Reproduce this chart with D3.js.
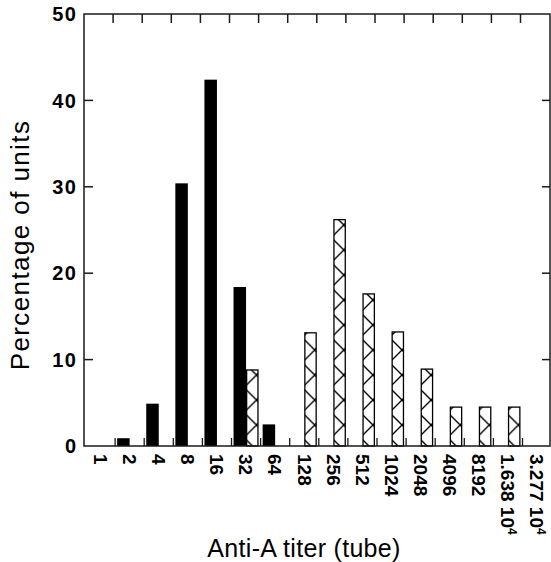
<!DOCTYPE html>
<html>
<head>
<meta charset="utf-8">
<script src="https://cdn.jsdelivr.net/npm/d3@7"></script>
<style>
  body { margin: 0; background: #fff; }
  text { font-family: "Liberation Sans", Arial, sans-serif; fill: #000; }
</style>
</head>
<body>
<div class="chart"></div>
<script>
const width = 551;
const height = 562;

// titer categories (tube), "^" marks the exponent
const titers = ["1", "2", "4", "8", "16", "32", "64", "128", "256", "512",
  "1024", "2048", "4096", "8192", "1.638 10^4", "3.277 10^4"];
const series = ["solid", "hatched"];
const solidValues = [0, 0.9, 4.9, 30.4, 42.4, 18.4, 2.5, 0, 0, 0, 0, 0, 0, 0, 0, 0];
const hatchedValues = [0, 0, 0, 0, 0, 8.8, 0, 13.1, 26.2, 17.6, 13.2, 8.9, 4.5, 4.5, 4.5, 0];
const yTicks = [0, 10, 20, 30, 40, 50];

const plotLeft = 84, plotRight = 550, plotTop = 14, plotBottom = 446;

const svg = d3.select(".chart").append("svg")
    .attr("width", width).attr("height", height);

const defs = svg.append("defs");
const pat = defs.append("pattern")
    .attr("id", "xhatch")
    .attr("patternUnits", "userSpaceOnUse")
    .attr("width", 25).attr("height", 25);
pat.append("rect").attr("width", 25).attr("height", 25).attr("fill", "#fff");
pat.append("path")
    .attr("d", "M0,0L25,25M0,25L25,0")
    .attr("stroke", "#000").attr("stroke-width", 1.4).attr("fill", "none");

const x = d3.scaleBand()
    .domain(titers)
    .range([86, 86 + 16 * 29.1]);

const xInner = d3.scaleBand()
    .domain(series)
    .range([x.bandwidth() * 0.07, x.bandwidth() * 0.93]);

const y = d3.scaleLinear()
    .domain([0, 50])
    .range([plotBottom, plotTop]);

const rows = titers.map((t, i) => ({ titer: t, solid: solidValues[i], hatched: hatchedValues[i] }));

// bars
const groups = svg.selectAll(".grp")
  .data(rows)
  .enter().append("g")
    .attr("class", "grp")
    .attr("transform", d => `translate(${x(d.titer)},0)`);

groups.filter(d => d.solid > 0).append("rect")
    .attr("x", xInner("solid"))
    .attr("width", xInner.bandwidth())
    .attr("y", d => y(d.solid))
    .attr("height", d => y(0) - y(d.solid))
    .attr("fill", "#000");

groups.filter(d => d.hatched > 0).append("rect")
    .attr("x", xInner("hatched") + 0.6)
    .attr("width", xInner.bandwidth() - 1.2)
    .attr("y", d => y(d.hatched))
    .attr("height", d => y(0) - y(d.hatched))
    .attr("fill", "url(#xhatch)")
    .attr("stroke", "#000")
    .attr("stroke-width", 1.3);

// frame
const frameColor = "#1a1a1a";
svg.append("rect")
    .attr("x", plotLeft).attr("y", plotTop)
    .attr("width", plotRight - plotLeft).attr("height", plotBottom - plotTop)
    .attr("fill", "none").attr("stroke", frameColor).attr("stroke-width", 1.5);

// y ticks both sides
svg.selectAll(".ytl")
  .data(yTicks.slice(1, -1))
  .enter().append("line")
    .attr("x1", plotLeft).attr("x2", plotLeft + 9)
    .attr("y1", d => y(d)).attr("y2", d => y(d))
    .attr("stroke", frameColor).attr("stroke-width", 1.5);

svg.selectAll(".ytr")
  .data(yTicks.slice(1, -1))
  .enter().append("line")
    .attr("x1", plotRight - 8).attr("x2", plotRight)
    .attr("y1", d => y(d)).attr("y2", d => y(d))
    .attr("stroke", frameColor).attr("stroke-width", 1.5);

svg.selectAll(".ylab")
  .data(yTicks)
  .enter().append("text")
    .attr("x", 77.5)
    .attr("y", d => y(d))
    .attr("dy", "0.36em")
    .attr("text-anchor", "end")
    .attr("font-size", 20)
    .attr("font-weight", "bold")
    .attr("letter-spacing", 1.5)
    .text(d => d);

// x ticks at category boundaries, bottom and top
const bounds = titers.slice(1);
svg.selectAll(".xtb")
  .data(bounds)
  .enter().append("line")
    .attr("x1", d => x(d)).attr("x2", d => x(d))
    .attr("y1", plotBottom).attr("y2", plotBottom - 8)
    .attr("stroke", frameColor).attr("stroke-width", 1.3);

svg.selectAll(".xtt")
  .data(bounds)
  .enter().append("line")
    .attr("x1", d => x(d) - 2).attr("x2", d => x(d) - 2)
    .attr("y1", plotTop).attr("y2", plotTop + 9)
    .attr("stroke", frameColor).attr("stroke-width", 1.5);

// rotated x tick labels
const xl = svg.selectAll(".xlab")
  .data(titers)
  .enter().append("text")
    .attr("transform", d => `translate(${x(d) + x.bandwidth() / 2},454) rotate(90)`)
    .attr("dy", "0.35em")
    .attr("font-size", 19)
    .attr("font-weight", "bold");

xl.append("tspan").text(d => d.split("^")[0]);
xl.filter(d => d.includes("^")).append("tspan")
    .attr("dy", "-0.55em")
    .attr("font-size", 12)
    .text(d => d.split("^")[1]);

// axis titles
svg.append("text")
    .attr("x", 304).attr("y", 557)
    .attr("text-anchor", "middle")
    .attr("font-size", 25)
    .attr("letter-spacing", 0.3)
    .text("Anti-A titer (tube)");

svg.append("text")
    .attr("transform", "translate(29,245) rotate(-90)")
    .attr("text-anchor", "middle")
    .attr("font-size", 26)
    .attr("letter-spacing", 1.4)
    .text("Percentage of units");
</script>
</body>
</html>
